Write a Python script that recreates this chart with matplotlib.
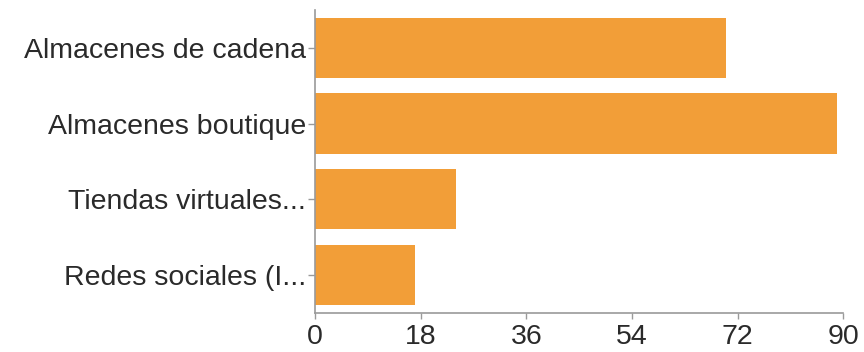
import matplotlib.pyplot as plt

categories = ["Almacenes de cadena", "Almacenes boutique", "Tiendas virtuales...", "Redes sociales (I..."]
values = [70, 89, 24, 17]
x_ticks = [0, 18, 36, 54, 72, 90]

plt.rcParams["font.family"] = ["Liberation Sans", "DejaVu Sans"]

fig = plt.figure(figsize=(8.64, 3.52), dpi=100)
ax = fig.add_axes([0.3646, 0.1116, 0.6115, 0.86])

pos = list(range(len(categories)))
ax.barh(pos, values, height=0.8, color="#F29E38")

ax.set_xlim(0, 90)
ax.set_ylim(len(categories) - 0.5, -0.5)
ax.set_xticks(x_ticks)
ax.set_yticks(pos)
ax.set_yticklabels(categories)

for s in ["top", "right"]:
    ax.spines[s].set_visible(False)
for s in ["left", "bottom"]:
    ax.spines[s].set_color("#9a9a9a")
    ax.spines[s].set_linewidth(1.2)

ax.tick_params(axis="both", colors="#9a9a9a", labelcolor="#2a2a2a", labelsize=20.5, width=1)
ax.tick_params(axis="x", length=4, pad=4)
ax.tick_params(axis="y", length=5, pad=1.5)

fig.savefig("out.png", dpi=100)
